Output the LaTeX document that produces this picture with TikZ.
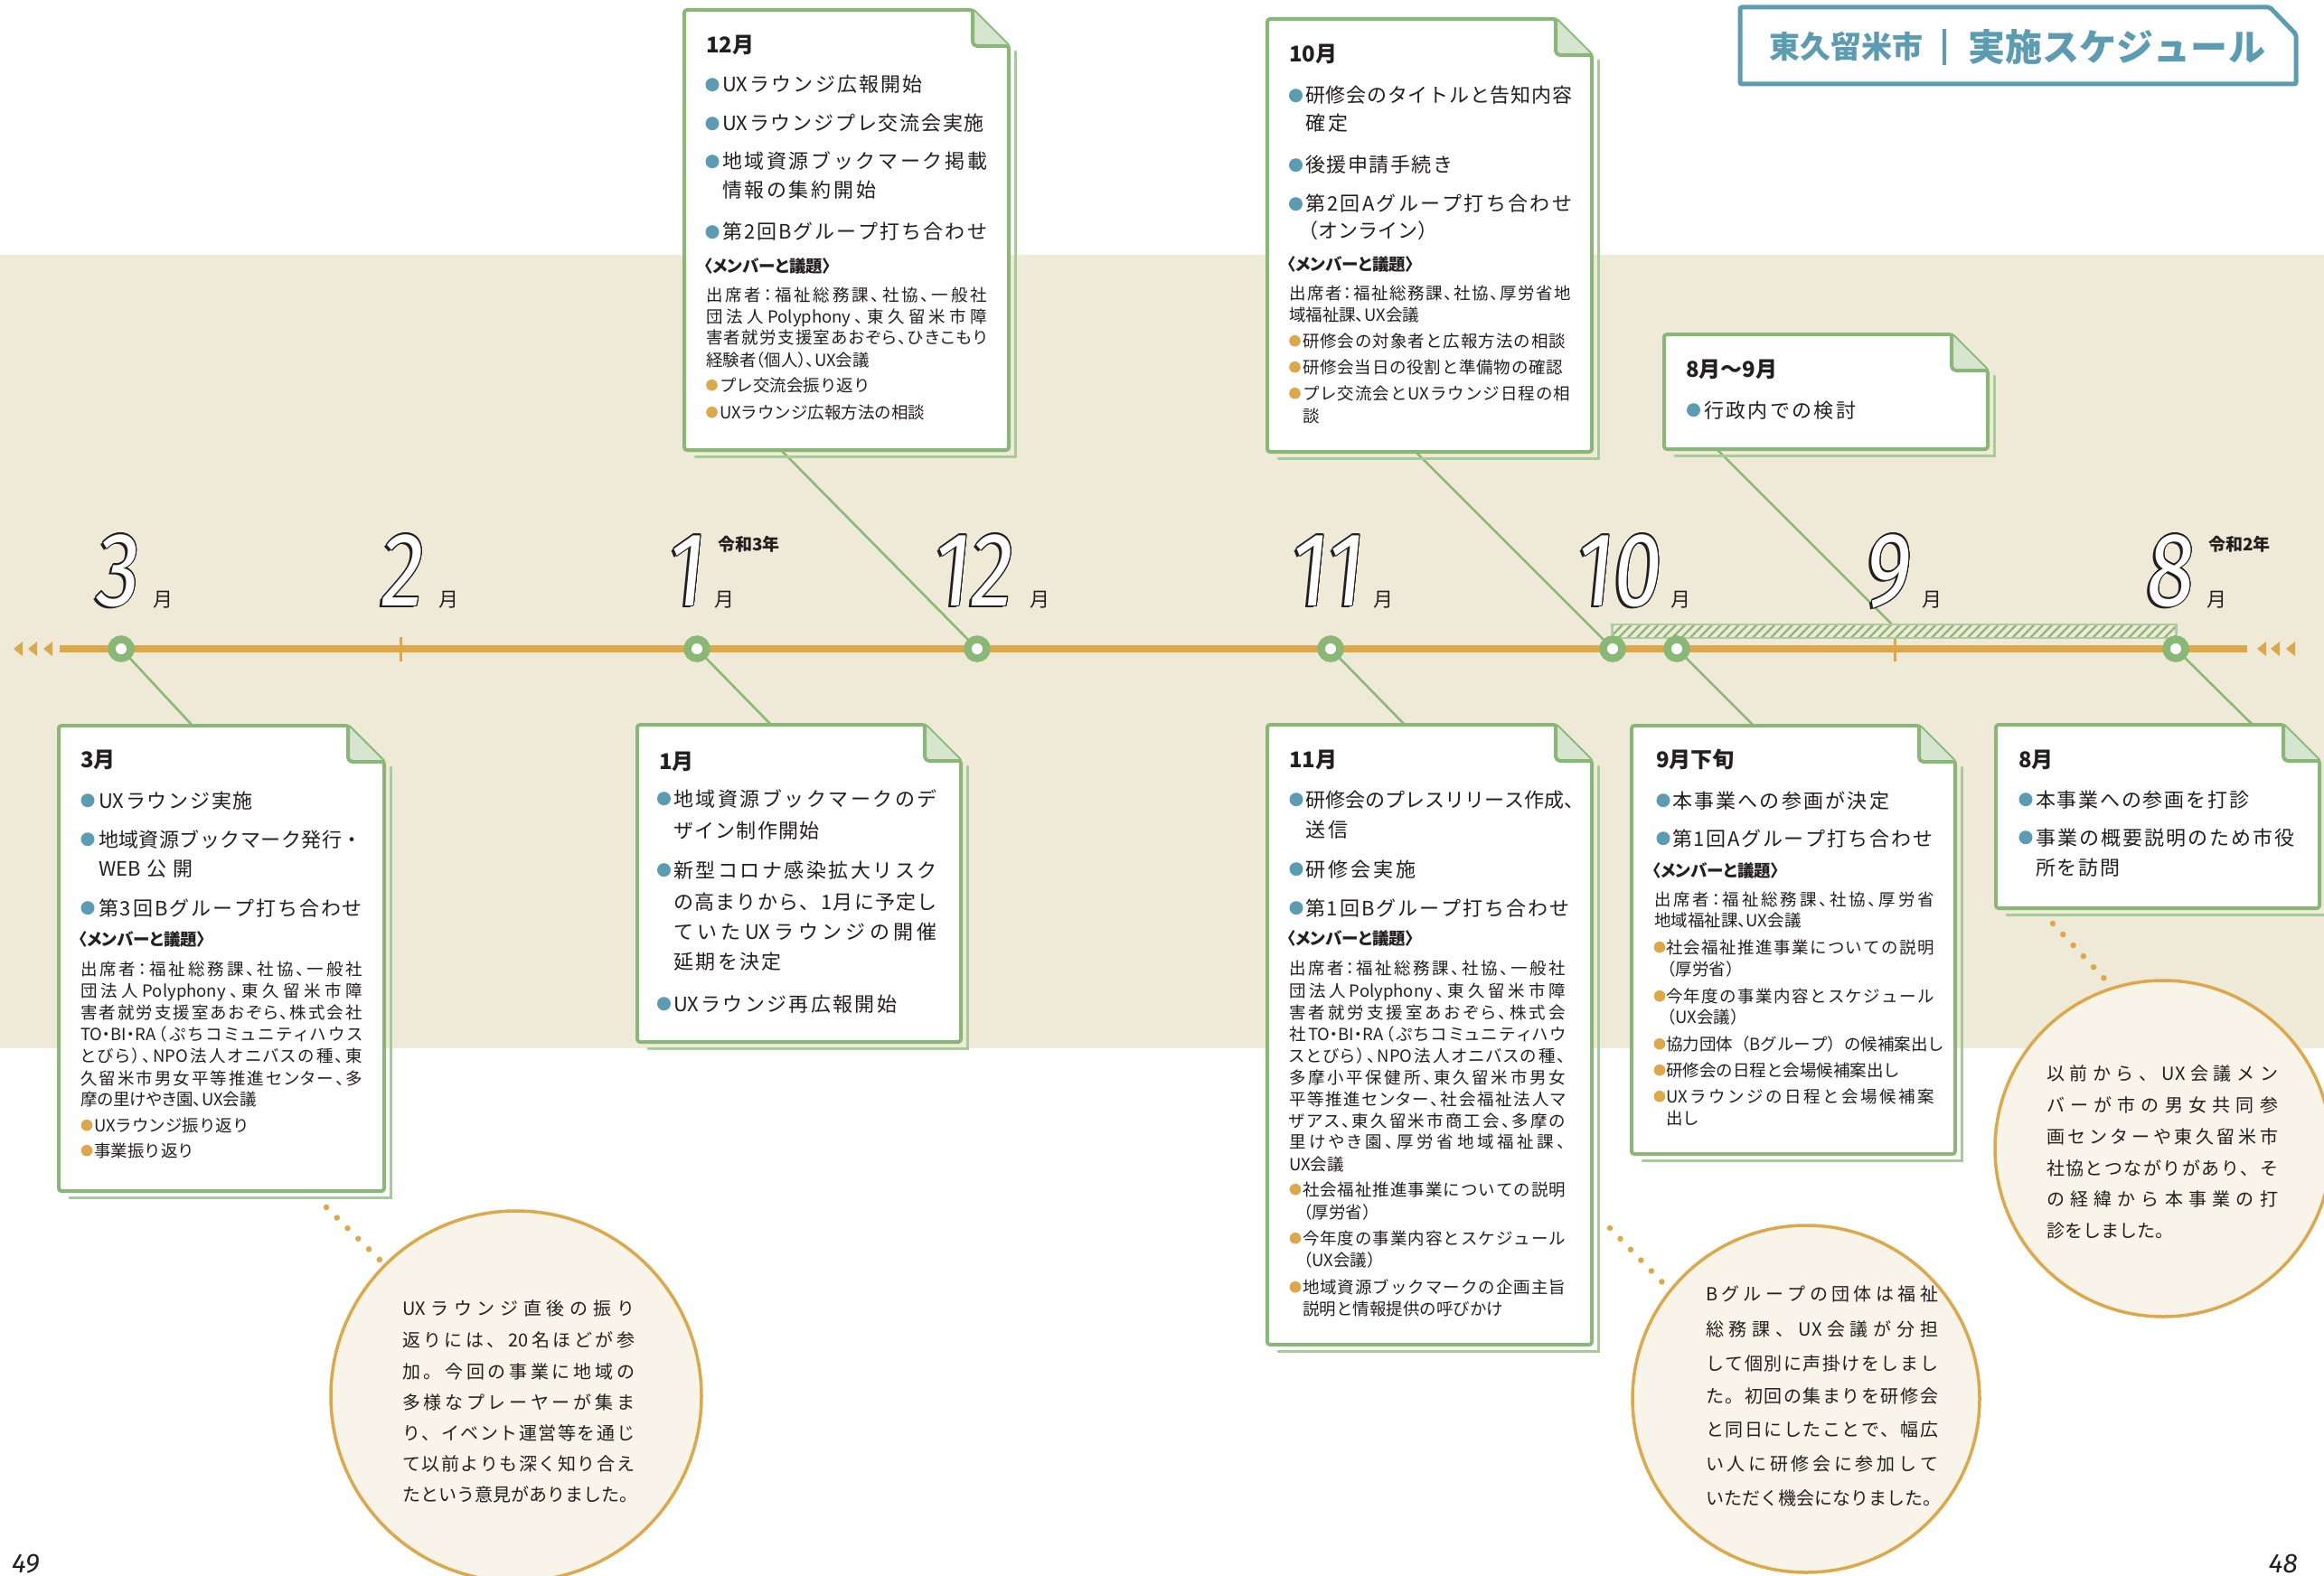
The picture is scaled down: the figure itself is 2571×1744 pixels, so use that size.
\documentclass[tikz,border=0pt]{standalone}
\usepackage{fontspec}
\usepackage{contour}
\usetikzlibrary{patterns.meta,fit}
\setmainfont{Noto Sans CJK JP}
\newfontfamily\jpp{Noto Sans CJK JP}[RawFeature=+palt]
\newfontfamily\numf{Fira Sans}[Numbers=Proportional]
\newfontfamily\pagef{Fira Sans}
\contourlength{1.3pt}
\definecolor{greenc}{RGB}{137,184,118}
\definecolor{foldc}{RGB}{214,229,207}
\definecolor{orangec}{RGB}{221,168,74}
\definecolor{bluec}{RGB}{92,156,178}
\definecolor{beigec}{RGB}{239,233,216}
\definecolor{creamc}{RGB}{249,244,233}
\definecolor{ink}{RGB}{35,31,32}
\pgfdeclarelayer{bg}\pgfdeclarelayer{lines}\pgfsetlayers{bg,lines,main}
\makeatletter
\def\jl#1#2{\hbox to #1pt{\jl@a#2\jl@end}}
\def\jl@a#1#2\jl@end{#1\if\relax\detokenize{#2}\relax\expandafter\@gobble\else\hfil\expandafter\@firstofone\fi{\jl@a#2\jl@end}}
\makeatother
\newcounter{lnc}
\newcommand\T[4][]{\stepcounter{lnc}\node[txt,#2] (t\arabic{lnc}) at #3 {\if\relax\detokenize{#1}\relax#4\else\jl{#1}{#4}\fi};}
\newcommand\MB[5]{\fill[bluec] (#1,#3-8.3) circle (7.5pt); \T[#4]{mtxt}{(#2,#3)}{#5}}
\newcommand\SB[5]{\fill[orangec] (#1,#3-6.8) circle (6.3pt); \T[#4]{sbtxt}{(#2,#3)}{#5}}
\newcommand\card[5]{%
 \draw[cardshadow] (#4+7,#3+46) -- (#4+7,#5+7) -- (#2+12,#5+7);
 \draw[cardline, fill=white] (#2,#3) -- (#4-40,#3) -- (#4,#3+40) -- (#4,#5) -- (#2,#5) -- cycle;
 \draw[cardline, fill=foldc, rounded corners=5pt] (#4-40,#3) -- (#4-40,#3+40) -- (#4,#3+40);
 \node[inner sep=0pt, fit={(#2,#3) (#4,#5)}] (#1) {};}
\newcommand\BN[4]{\begin{scope}[shift={(#2,#3)}]
 \node[bn,text=ink] (#1s) at (-3,2.5) {#4};
 \node[bn,text=white] (#1) at (0,0) {\contour{ink}{#4}};
 \end{scope}}
\tikzset{
 txt/.style={anchor=base west, inner sep=0pt, outer sep=0pt, text=ink},
 ctitle/.style={font=\fontsize{24}{24}\selectfont\bfseries},
 mtxt/.style={font=\fontsize{22}{22}\selectfont},
 stxt/.style={font=\jpp\fontsize{18.5}{18.5}\selectfont},
 sbtxt/.style={font=\fontsize{18.5}{18.5}\selectfont},
 shead/.style={font=\jpp\fontsize{18.5}{18.5}\selectfont\bfseries},
 ctxt/.style={font=\fontsize{20}{20}\selectfont},
 cardline/.style={draw=greenc, line width=4pt, line join=round, rounded corners=3pt},
 cardshadow/.style={draw=greenc!75!white, line width=3pt, line cap=round},
 link/.style={draw=greenc, line width=2.5pt},
 dots/.style={draw=orangec, line width=6.5pt, line cap=round, dash pattern=on 0pt off 16.5pt},
 marker/.style={circle, draw=greenc, line width=8.5pt, fill=white, minimum size=21pt, inner sep=0pt},
 bubble/.style={circle, draw=orangec, line width=3.5pt, fill=creamc, inner sep=0pt},
 bn/.style={font=\numf\fontsize{116}{116}\selectfont, inner sep=0pt, anchor=base east, xscale=0.82, xslant=0.12, transform shape},
 mon/.style={txt, font=\fontsize{22}{22}\selectfont},
 nen/.style={txt, font=\fontsize{19}{19}\selectfont\bfseries},
}
\begin{document}
\begin{tikzpicture}[x=1pt,y=-1pt]
\useasboundingbox (0,0) rectangle (2571,1744);
\begin{pgfonlayer}{bg}
\fill[white] (0,0) rectangle (2571,1744);
\fill[beigec] (0,282) rectangle (2571,1160);
\end{pgfonlayer}

% title
\draw[draw=bluec, line width=5pt, fill=white, line join=round, rounded corners=2pt] (1925,8) -- (2511,8) -- (2540,38) -- (2540,93) -- (1925,93) -- cycle;
\node[txt, font=\fontsize{34}{34}\selectfont\bfseries, text=bluec] (ttl1) at (1957,65) {\jl{170}{東久留米市}};
\draw[bluec, line width=4pt] (2151,32) -- (2151,72);
\node[txt, font=\fontsize{41}{41}\selectfont\bfseries, text=bluec] (ttl2) at (2177,68) {\jl{329}{実施スケジュール}};

% cards
\card{c12}{757}{11}{1116}{498}
\card{c10}{1402}{21}{1761}{500}
\card{c89}{1841}{370}{2199}{497}
\card{c3}{65}{803}{425}{1318}
\card{c1}{705}{802}{1063}{1153}
\card{c11}{1402}{802}{1761}{1488}
\card{c9}{1805}{803}{2163}{1277}
\card{c8}{2208}{802}{2566}{1005}

% hatched bar
\node[draw=greenc!70!white, line width=2pt, pattern={Lines[angle=45,distance=7pt,line width=2.3pt]}, pattern color=greenc, minimum width=623pt, minimum height=15pt, inner sep=0pt] (bar) at (2095.5,698.5) {};

% markers
\node[marker] (m3) at (134,718) {};
\node[marker] (m1) at (771,718) {};
\node[marker] (m12) at (1081,718) {};
\node[marker] (m11) at (1472,718) {};
\node[marker] (m10) at (1784,718) {};
\node[marker] (m9) at (1855,718) {};
\node[marker] (m8) at (2407,718) {};

\coordinate (a3) at (213,803);
\coordinate (a1) at (853,802);
\coordinate (a12) at (864,498);
\coordinate (a11) at (1554,802);
\coordinate (a10) at (1566,500);
\coordinate (a9) at (1940,803);
\coordinate (a89) at (1899,497);
\coordinate (b9) at (2093,691);
\coordinate (a8) at (2492,802);
\coordinate (tlL) at (66,718);
\coordinate (tlR) at (2486,718);
\coordinate (d3s) at (361,1336);
\coordinate (d3e) at (421,1395);
\coordinate (d11s) at (1781,1359);
\coordinate (d11e) at (1839,1419);
\coordinate (d8s) at (2271,1022);
\coordinate (d8e) at (2330,1085);

\begin{pgfonlayer}{lines}
\draw[orangec, line width=8pt] (tlL) -- (tlR);
\foreach \ax in {15,31,48} {\fill[orangec] (\ax,718) -- (\ax+10,710) -- (\ax+10,726) -- cycle;}
\foreach \ax in {2497,2512,2529} {\fill[orangec] (\ax,718) -- (\ax+10,710) -- (\ax+10,726) -- cycle;}
\draw[orangec, line width=3pt] (443,705) -- (443,732);
\draw[orangec, line width=3pt] (2096,705) -- (2096,732);
\draw[greenc!70!white, line width=2pt] (bar.north west) -- (m10.center);
\draw[greenc!70!white, line width=2pt] (bar.north east) -- (m8.center);
\draw[link] (m3.center) -- (a3);
\draw[link] (m1.center) -- (a1);
\draw[link] (m12.center) -- (a12);
\draw[link] (m11.center) -- (a11);
\draw[link] (m10.center) -- (a10);
\draw[link] (m9.center) -- (a9);
\draw[link] (b9) -- (a89);
\draw[link] (m8.center) -- (a8);
\draw[dots] (d3s) -- (d3e);
\draw[dots] (d11s) -- (d11e);
\draw[dots] (d8s) -- (d8e);
\end{pgfonlayer}

% month numerals
\BN{n3}{152}{670}{3}
\BN{n2}{467}{670}{2}
\BN{n1}{778}{670}{1}
\BN{n12}{1119}{670}{12}
\BN{n11}{1507}{670}{11}
\BN{n10}{1836}{670}{10}
\BN{n9}{2112}{670}{9}
\BN{n8}{2425}{670}{8}
\node[mon] (g3) at (169,671) {月};
\node[mon] (g2) at (485,671) {月};
\node[mon] (g1) at (790,671) {月};
\node[mon] (g12) at (1139,671) {月};
\node[mon] (g11) at (1519,671) {月};
\node[mon] (g10) at (1848,671) {月};
\node[mon] (g9) at (2126,671) {月};
\node[mon] (g8) at (2441,671) {月};
\node[nen] (r3) at (794,609) {令和3年};
\node[nen] (r2) at (2443,609) {令和2年};

% 12月
\T{ctitle}{(781,59)}{12月}
\MB{788}{799}{102}{222}{{UX}ラウンジ広報開始}
\MB{788}{799}{145}{290}{{UX}ラウンジプレ交流会実施}
\MB{788}{799}{187}{293}{地域資源ブックマーク掲載}
\T[170]{mtxt}{(799,219)}{情報の集約開始}
\MB{788}{799}{265}{293}{第2回Bグループ打ち合わせ}
\T{shead}{(779,301)}{〈メンバーと議題〉}
\T[311]{stxt}{(781,333)}{出席者：福祉総務課、社協、一般社}
\T[311]{stxt}{(781,357)}{団法人{Polyphony}、東久留米市障}
\T[311]{stxt}{(781,380)}{害者就労支援室あおぞら、ひきこもり}
\T{stxt}{(781,405)}{経験者（個人）、UX会議}
\SB{787.5}{796}{433}{}{プレ交流会振り返り}
\SB{787.5}{796}{463}{}{UXラウンジ広報方法の相談}

% 10月
\T{ctitle}{(1426,69)}{10月}
\MB{1433.5}{1444}{114}{295}{研修会のタイトルと告知内容}
\T[47]{mtxt}{(1444,145)}{確定}
\MB{1433.5}{1444}{191}{163}{後援申請手続き}
\MB{1433.5}{1444}{234}{295}{第2回Aグループ打ち合わせ}
\T{mtxt}{(1436,264)}{（オンライン）}
\T{shead}{(1424,299)}{〈メンバーと議題〉}
\T[312]{stxt}{(1426,331)}{出席者：福祉総務課、社協、厚労省地}
\T{stxt}{(1426,355)}{域福祉課、UX会議}
\SB{1432.5}{1441}{384}{291}{研修会の対象者と広報方法の相談}
\SB{1432.5}{1441}{413}{288}{研修会当日の役割と準備物の確認}
\SB{1432.5}{1441}{442}{296}{プレ交流会と{UX}ラウンジ日程の相}
\T{sbtxt}{(1441,467)}{談}

% 8月～9月
\T{ctitle}{(1865,417)}{8月～9月}
\MB{1873.5}{1885}{462}{168}{行政内での検討}

% 3月
\T{ctitle}{(89,849)}{3月}
\MB{97}{109}{894}{171}{{UX}ラウンジ実施}
\MB{97}{109}{937}{292}{地域資源ブックマーク発行・}
\T[105]{mtxt}{(109,969)}{{WEB}公開}
\MB{97}{109}{1013}{292}{第3回Bグループ打ち合わせ}
\T{shead}{(87,1046)}{〈メンバーと議題〉}
\T[312]{stxt}{(89,1079)}{出席者：福祉総務課、社協、一般社}
\T[312]{stxt}{(89,1103)}{団法人{Polyphony}、東久留米市障}
\T[312]{stxt}{(89,1127)}{害者就労支援室あおぞら、株式会社}
\T[312]{stxt}{(89,1151)}{{TO・BI・RA}（ぷちコミュニティハウス}
\T[312]{stxt}{(89,1175)}{とびら）、{NPO}法人オニバスの種、東}
\T[312]{stxt}{(89,1200)}{久留米市男女平等推進センター、多}
\T{stxt}{(89,1223)}{摩の里けやき園、UX会議}
\SB{96}{104}{1252}{}{UXラウンジ振り返り}
\SB{96}{104}{1280}{}{事業振り返り}

% 1月
\T{ctitle}{(729,851)}{1月}
\MB{734.5}{745}{892}{292}{地域資源ブックマークのデ}
\T[162]{mtxt}{(745,927)}{ザイン制作開始}
\MB{734.5}{745}{971}{292}{新型コロナ感染拡大リスク}
\T[292]{mtxt}{(745,1006)}{の高まりから、1月に予定し}
\T[292]{mtxt}{(745,1039)}{ていた{UX}ラウンジの開催}
\T[120]{mtxt}{(745,1072)}{延期を決定}
\MB{734.5}{745}{1119}{247}{{UX}ラウンジ再広報開始}

% 11月
\T{ctitle}{(1426,849)}{11月}
\MB{1434}{1444}{893}{300}{研修会のプレスリリース作成、}
\T[47]{mtxt}{(1444,926)}{送信}
\MB{1434}{1444}{970}{122}{研修会実施}
\MB{1434}{1444}{1013}{292}{第1回Bグループ打ち合わせ}
\T{shead}{(1424,1045)}{〈メンバーと議題〉}
\T[306]{stxt}{(1426,1078)}{出席者：福祉総務課、社協、一般社}
\T[306]{stxt}{(1426,1103)}{団法人{Polyphony}、東久留米市障}
\T[306]{stxt}{(1426,1127)}{害者就労支援室あおぞら、株式会}
\T[306]{stxt}{(1426,1151)}{社{TO・BI・RA}（ぷちコミュニティハウ}
\T[306]{stxt}{(1426,1175)}{スとびら）、{NPO}法人オニバスの種、}
\T[306]{stxt}{(1426,1199)}{多摩小平保健所、東久留米市男女}
\T[306]{stxt}{(1426,1223)}{平等推進センター、社会福祉法人マ}
\T[306]{stxt}{(1426,1247)}{ザアス、東久留米市商工会、多摩の}
\T[306]{stxt}{(1426,1270)}{里けやき園、厚労省地域福祉課、}
\T{stxt}{(1426,1295)}{UX会議}
\SB{1433}{1441}{1323}{291}{社会福祉推進事業についての説明}
\T{sbtxt}{(1433,1348)}{（厚労省）}
\SB{1433}{1441}{1377}{291}{今年度の事業内容とスケジュール}
\T{sbtxt}{(1433,1401)}{（UX会議）}
\SB{1433}{1441}{1431}{291}{地域資源ブックマークの企画主旨}
\T{sbtxt}{(1441,1455)}{説明と情報提供の呼びかけ}

% 9月下旬
\T{ctitle}{(1832,849)}{9月下旬}
\MB{1840}{1850}{894}{240}{本事業への参画が決定}
\MB{1840}{1850}{936}{288}{第1回Aグループ打ち合わせ}
\T{shead}{(1828,970)}{〈メンバーと議題〉}
\T[310]{stxt}{(1830,1002)}{出席者：福祉総務課、社協、厚労省}
\T{stxt}{(1830,1025)}{地域福祉課、UX会議}
\SB{1836}{1843}{1055}{297}{社会福祉推進事業についての説明}
\T{sbtxt}{(1835,1079)}{（厚労省）}
\SB{1836}{1843}{1109}{297}{今年度の事業内容とスケジュール}
\T{sbtxt}{(1835,1132)}{（UX会議）}
\SB{1836}{1843}{1162}{297}{協力団体（Bグループ）の候補案出し}
\SB{1836}{1843}{1191}{}{研修会の日程と会場候補案出し}
\SB{1836}{1843}{1220}{297}{{UX}ラウンジの日程と会場候補案}
\T{sbtxt}{(1843,1244)}{出し}

% 8月
\T{ctitle}{(2233,849)}{8月}
\MB{2241}{2252}{893}{236}{本事業への参画を打診}
\MB{2241}{2252}{935}{286}{事業の概要説明のため市役}
\T[93]{mtxt}{(2252,968)}{所を訪問}

% bubbles
\node[bubble, minimum size=410pt] (bub3) at (571,1545) {};
\node[bubble, minimum size=384pt] (bub11) at (1998,1548) {};
\node[bubble, minimum size=372pt] (bub8) at (2393,1271) {};

\T[257]{ctxt}{(445,1455)}{{UX}ラウンジ直後の振り}
\T[257]{ctxt}{(445,1490)}{返りには、{20}名ほどが参}
\T[257]{ctxt}{(445,1525)}{加。今回の事業に地域の}
\T[257]{ctxt}{(445,1559)}{多様なプレーヤーが集ま}
\T[257]{ctxt}{(445,1593)}{り、イベント運営等を通じ}
\T[257]{ctxt}{(445,1627)}{て以前よりも深く知り合え}
\T{ctxt}{(445,1661)}{たという意見がありました。}

\T[257]{ctxt}{(1887,1439)}{Bグループの団体は福祉}
\T[257]{ctxt}{(1887,1478)}{総務課、{UX}会議が分担}
\T[257]{ctxt}{(1887,1516)}{して個別に声掛けをしまし}
\T[257]{ctxt}{(1887,1552)}{た。初回の集まりを研修会}
\T[257]{ctxt}{(1887,1589)}{と同日にしたことで、幅広}
\T[257]{ctxt}{(1887,1627)}{い人に研修会に参加して}
\T{ctxt}{(1887,1665)}{いただく機会になりました。}

\T[256]{ctxt}{(2264,1195)}{以前から、{UX}会議メン}
\T[256]{ctxt}{(2264,1230)}{バーが市の男女共同参}
\T[256]{ctxt}{(2264,1265)}{画センターや東久留米市}
\T[256]{ctxt}{(2264,1300)}{社協とつながりがあり、そ}
\T[256]{ctxt}{(2264,1334)}{の経緯から本事業の打}
\T{ctxt}{(2264,1369)}{診をしました。}

% page numbers
\node[txt, font=\pagef\itshape\fontsize{30}{30}\selectfont] (pg49) at (13,1740) {49};
\node[txt, anchor=base east, font=\pagef\itshape\fontsize{30}{30}\selectfont] (pg48) at (2542,1740) {48};
\end{tikzpicture}
\end{document}
